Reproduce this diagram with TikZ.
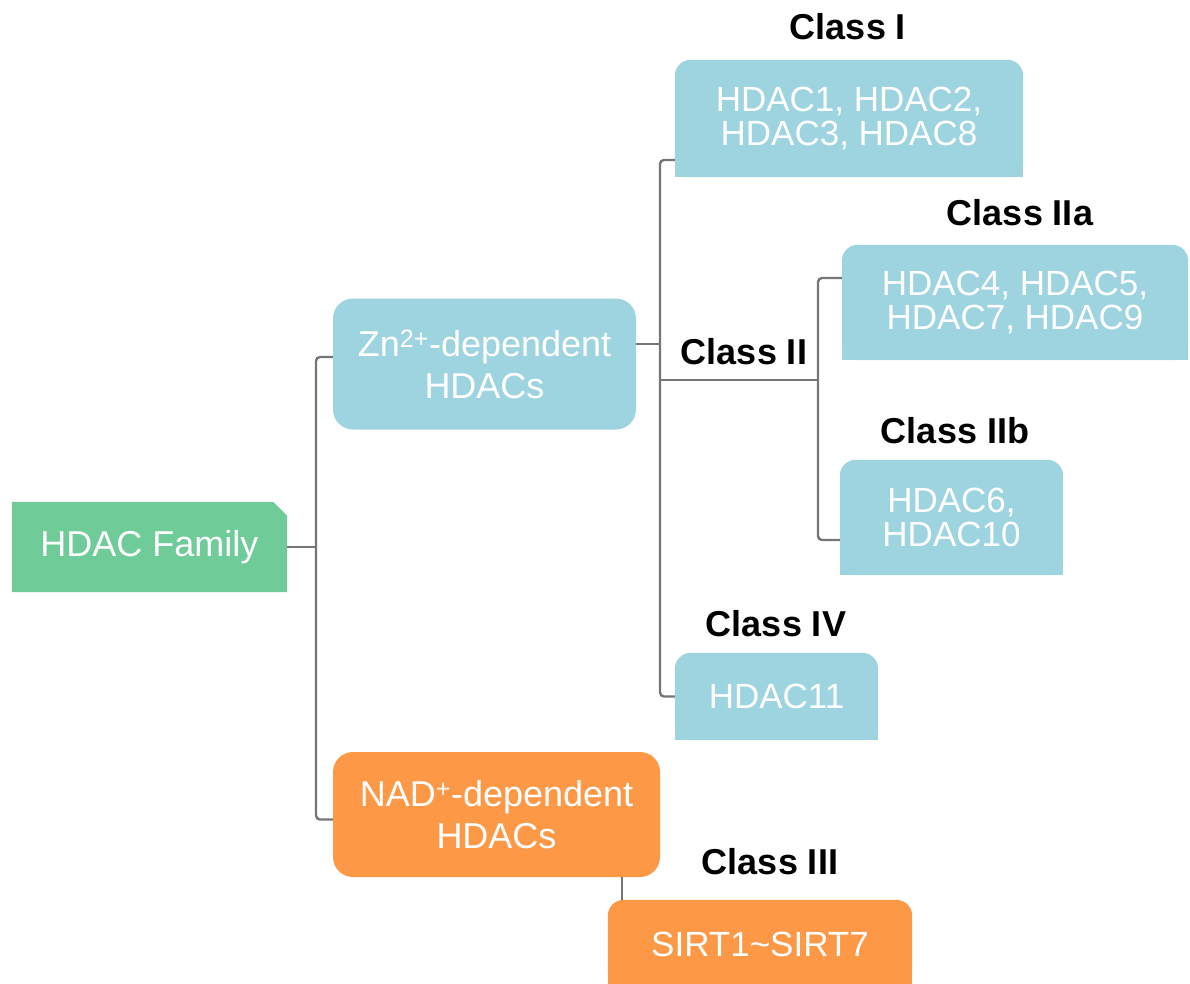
\documentclass[tikz,border=0pt]{standalone}
\usepackage{fontspec}
\setmainfont{Liberation Sans}
\usetikzlibrary{backgrounds}

\definecolor{famgreen}{RGB}{111,203,152}
\definecolor{znblue}{RGB}{158,212,223}
\definecolor{nadorange}{RGB}{253,152,70}
\definecolor{linkgray}{RGB}{118,118,118}

\begin{document}
\begin{tikzpicture}[x=1pt,y=-1pt,
	box/.style={inner sep=0pt,align=center,text=white,font=\fontsize{36}{42}\selectfont},
	leaf/.style={box,font=\fontsize{35}{34}\selectfont},
	cls/.style={inner sep=0pt,font=\fontsize{36}{40}\selectfont\bfseries},
	link/.style={draw=linkgray,line width=2.4pt,rounded corners=4pt}]
	\useasboundingbox (0,0) rectangle (1190,984);
	\node[box,minimum width=275,minimum height=90] (fam) at (149.5,547) {HDAC Family};
	\node[box,fill=znblue,rounded corners=20pt,minimum width=303,minimum height=131] (zn) at (484.5,364) {Zn\textsuperscript{2+}-dependent\\HDACs};
	\node[box,fill=nadorange,rounded corners=20pt,minimum width=327,minimum height=125] (nad) at (496.5,814.5) {NAD\textsuperscript{+}-dependent\\HDACs};
	\node[leaf,minimum width=348,minimum height=117] (c1) at (849,118.5) {HDAC1, HDAC2,\\HDAC3, HDAC8};
	\node[leaf,minimum width=346,minimum height=115] (c2a) at (1015,302.5) {HDAC4, HDAC5,\\HDAC7, HDAC9};
	\node[leaf,minimum width=223,minimum height=115] (c2b) at (951.5,517.5) {HDAC6,\\HDAC10};
	\node[leaf,minimum width=203,minimum height=87] (c4) at (776.5,696.5) {HDAC11};
	\node[leaf,minimum width=304,minimum height=88] (c3) at (760,944) {SIRT1\textasciitilde SIRT7};
	\node[cls] (l1) at (848,27) {Class I};
	\node[cls] (l2a) at (1020,213) {Class IIa};
	\node[cls] (l2) at (744,352) {Class II};
	\node[cls] (l2b) at (955,431) {Class IIb};
	\node[cls] (l4) at (776,624) {Class IV};
	\node[cls] (l3) at (770,862) {Class III};
	\begin{pgfonlayer}{background}
	\fill[famgreen] (fam.south west) -- (fam.north west) -- ([xshift=-14pt]fam.north east) -- ([yshift=-14pt]fam.north east) -- (fam.south east) -- cycle;
	\foreach \n in {c1,c2a,c2b,c4} {
		\fill[znblue,rounded corners=16pt] (\n.north west) rectangle (\n.south east);
		\fill[znblue] (\n.west) rectangle (\n.south east);
	}
	\fill[nadorange,rounded corners=16pt] (c3.north west) rectangle (c3.south east);
	\fill[nadorange] (c3.west) rectangle (c3.south east);
	\end{pgfonlayer}
	\coordinate (j1) at (316,547);
	\coordinate (j2) at (660,380);
	\coordinate (j3) at (818,380);
	\draw[link] (fam.east) -- (j1);
	\draw[link] ([yshift=7pt]zn.west) -| (j1) |- ([yshift=-5pt]nad.west);
	\draw[link] ([yshift=20pt]zn.east) -- ([yshift=20pt]zn.east -| j2);
	\draw[link] ([yshift=-41.5pt]c1.west) -| (j2) |- (c4.west);
	\draw[link] (j2) -- (j3);
	\draw[link] ([yshift=24.5pt]c2a.west) -| (j3) |- ([yshift=-22.5pt]c2b.west);
	\draw[link] ([xshift=-38pt]nad.south east) -- ([xshift=-38pt]nad.south east |- c3.north);
\end{tikzpicture}
\end{document}
